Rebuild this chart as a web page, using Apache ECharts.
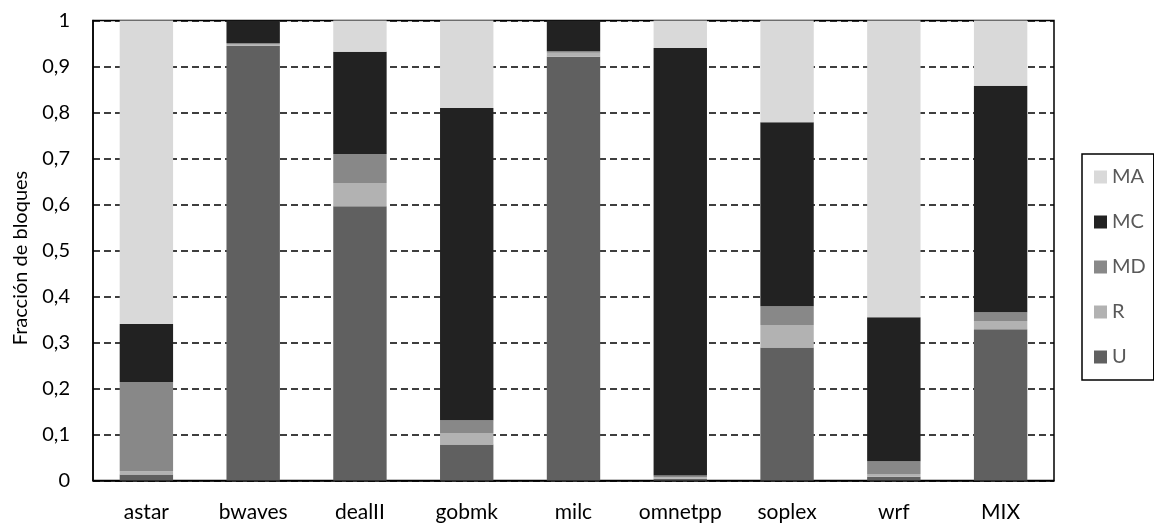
<!DOCTYPE html>
<html>
<head>
<meta charset="utf-8">
<script src="https://cdn.jsdelivr.net/npm/echarts@6/dist/echarts.min.js"></script>
<style>
html,body{margin:0;padding:0;background:#fff;}
#chart{width:1154px;height:523px;}
</style>
</head>
<body>
<div id="chart"></div>
<script>
const categories = ['astar','bwaves','dealII','gobmk','milc','omnetpp','soplex','wrf','MIX'];
const U  = [0.013, 0.945, 0.596, 0.078, 0.921, 0.004, 0.289, 0.008, 0.329];
const R  = [0.007, 0.003, 0.051, 0.025, 0.009, 0.003, 0.049, 0.006, 0.018];
const MD = [0.194, 0.003, 0.063, 0.028, 0.003, 0.004, 0.041, 0.028, 0.019];
const MC = [0.126, 0.049, 0.222, 0.679, 0.067, 0.929, 0.400, 0.313, 0.492];
const MA = [0.660, 0.000, 0.068, 0.190, 0.000, 0.060, 0.221, 0.645, 0.142];
const yTicks = [0, 0.1, 0.2, 0.3, 0.4, 0.5, 0.6, 0.7, 0.8, 0.9, 1];

const colors = {U:'#606060', R:'#b2b2b2', MD:'#888888', MC:'#222222', MA:'#d9d9d9'};
const FONT = 'Lato';

function mk(name, data) {
  return {
    name: name, type: 'bar', stack: 'total', data: data,
    barWidth: '50%',
    itemStyle: {color: colors[name]},
    emphasis: {disabled: true}
  };
}

const chart = echarts.init(document.getElementById('chart'), null, {renderer: 'canvas'});
chart.setOption({
  animation: false,
  textStyle: {fontFamily: FONT},
  grid: {left: 93, right: 100, top: 20.5, bottom: 42.5, show: true, borderColor: '#000', borderWidth: 1.5, containLabel: false},
  legend: {
    orient: 'vertical', left: 1082, top: 154,
    data: ['MA','MC','MD','R','U'],
    itemWidth: 13, itemHeight: 13, itemGap: 25,
    padding: [13, 8, 13, 12],
    borderColor: '#000', borderWidth: 1.5,
    icon: 'rect',
    textStyle: {fontFamily: FONT, fontSize: 20, lineHeight: 20, color: '#595959'}
  },
  xAxis: {
    type: 'category', data: categories,
    axisLine: {lineStyle: {color: '#000', width: 1.5}},
    axisTick: {show: false},
    axisLabel: {fontFamily: FONT, fontSize: 21, color: '#000', margin: 21, interval: 0, hideOverlap: false}
  },
  yAxis: {
    type: 'value', min: yTicks[0], max: yTicks[yTicks.length - 1], interval: 0.1,
    name: 'Fracción de bloques', nameLocation: 'middle', nameGap: 62,
    nameTextStyle: {fontFamily: FONT, fontSize: 20, color: '#000', padding: [0, 15, 0, 0]},
    axisLine: {show: true, lineStyle: {color: '#000', width: 1.5}},
    axisTick: {show: false},
    axisLabel: {fontFamily: FONT, fontSize: 20, color: '#000', margin: 23,
      formatter: v => String(+v.toFixed(1)).replace('.', ',')},
    splitLine: {show: true, lineStyle: {color: '#000', width: 1.5, type: [7, 4]}}
  },
  series: [mk('U', U), mk('R', R), mk('MD', MD), mk('MC', MC), mk('MA', MA)]
});
</script>
</body>
</html>
